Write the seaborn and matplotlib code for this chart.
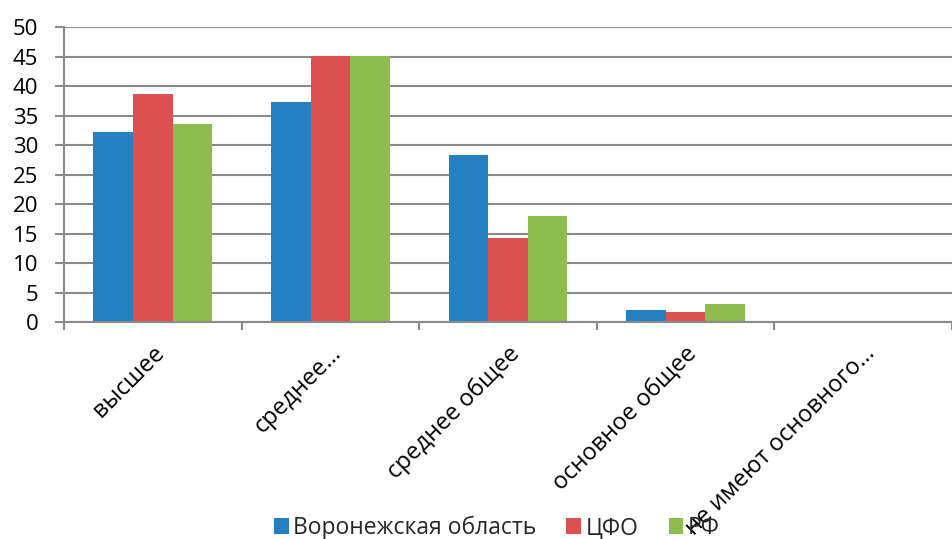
import matplotlib
matplotlib.use("Agg")
import matplotlib.pyplot as plt
import matplotlib.transforms as mtransforms
import numpy as np
import pandas as pd
import seaborn as sns

categories = ["высшее", "среднее…", "среднее общее", "основное общее", "не имеют основного…"]
series = ["Воронежская область", "ЦФО", "РФ"]
voronezh = [32.2, 37.3, 28.3, 2.0, 0.0]
cfo = [38.6, 45.1, 14.2, 1.8, 0.0]
rf = [33.5, 45.1, 18.0, 3.1, 0.2]
colors = ["#2580C2", "#DD5050", "#8DBC4F"]
yticks = list(range(0, 55, 5))

rows = []
for s, vals in zip(series, [voronezh, cfo, rf]):
    for c, v in zip(categories, vals):
        rows.append({"cat": c, "series": s, "val": v})
df = pd.DataFrame(rows)

sns.set_theme(style="white")
plt.rcParams["font.family"] = ["Open Sans", "DejaVu Sans"]

W, H = 952, 539
fig = plt.figure(figsize=(W / 100, H / 100), dpi=100)
left, bottom_px, top_px = 64, 322.3, 27
ax = fig.add_axes([left / W, 1 - bottom_px / H, (W - left) / W, (bottom_px - top_px) / H])

sns.barplot(data=df, x="cat", y="val", hue="series", order=categories, hue_order=series,
            palette=colors, width=0.67, gap=0, saturation=1, ax=ax, legend=True,
            linewidth=0, edgecolor="none")

grid_c = "#8a8a8a"
ax.set_ylim(0, 50)
ax.set_xlim(-0.5, -0.5 + (W - left) / 180)
ax.set_yticks(yticks)
ax.yaxis.grid(True, color=grid_c, lw=1.5)
ax.set_axisbelow(True)
for sp in ["top", "right"]:
    ax.spines[sp].set_visible(False)
for sp in ["left", "bottom"]:
    ax.spines[sp].set_color(grid_c)
    ax.spines[sp].set_linewidth(1.5)

ax.set_xlabel("")
ax.set_ylabel("")
ax.tick_params(axis="y", which="major", length=6.5, width=1.5, color=grid_c, direction="out",
               pad=12, labelsize=16, labelcolor="black", left=True)
ax.set_xticks(range(len(categories)))
ax.set_xticklabels(categories, rotation=45, ha="right", va="center", rotation_mode="anchor",
                   fontsize=17, color="black")
ax.tick_params(axis="x", which="major", length=0, pad=20)
offset = mtransforms.ScaledTranslation(8 / 100, 0, fig.dpi_scale_trans)
for lab in ax.get_xticklabels():
    lab.set_transform(lab.get_transform() + offset)
ax.set_xticks(np.arange(-0.5, len(categories), 1.0), minor=True)
ax.tick_params(axis="x", which="minor", length=6, width=1.5, color=grid_c, direction="out", bottom=True)

handles, labels = ax.get_legend_handles_labels()
ax.legend(handles, labels, loc="center", bbox_to_anchor=(497 / W, 1 - 528 / H),
          bbox_transform=fig.transFigure, ncol=3, frameon=False, fontsize=16.5,
          handlelength=0.65, handleheight=0.65, handletextpad=0.2, columnspacing=1.3,
          borderaxespad=0, borderpad=0)

fig.savefig("out.png", dpi=100)
